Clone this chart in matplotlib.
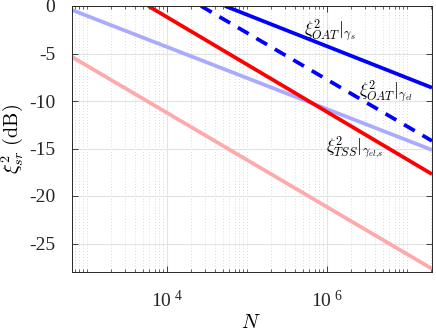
import numpy as np
import matplotlib
matplotlib.use("Agg")
import matplotlib.pyplot as plt
from matplotlib.ticker import FixedLocator, FixedFormatter, LogLocator, NullFormatter

# x range (atom number N)
N_lim = [650, 2.05e7]

# light background curves, dB values at the two ends
N_light = [650, 2.05e7]
oat_light_db = [-0.42, -15.15]
tss_light_db = [-5.36, -27.66]

# OAT, single-particle losses
N_oat_s = [5.3e4, 2.05e7]
oat_s_db = [0.0, -8.6]

# OAT, elastic collisions
N_oat_el = [2.66e4, 2.05e7]
oat_el_db = [0.0, -14.2]

# TSS
N_tss = [5.84e3, 2.05e7]
tss_db = [0.0, -17.7]

x_ticks = [1e4, 1e6]
x_ticklabels = [r'$\mathregular{10^{\ 4}}$', r'$\mathregular{10^{\ 6}}$']
y_ticks = [-25, -20, -15, -10, -5, 0]

plt.rcParams['font.family'] = ['Liberation Serif', 'DejaVu Serif']
plt.rcParams['mathtext.fontset'] = 'cm'

fig = plt.figure(figsize=(4.36, 3.32), dpi=100)
ax = fig.add_axes([72 / 436, 60 / 332, 360 / 436, 266 / 332])

ax.semilogx(N_light, oat_light_db, color='#aaaaff', lw=2.7, solid_capstyle='butt')
ax.semilogx(N_light, tss_light_db, color='#ffaaaa', lw=2.7, solid_capstyle='butt')
ax.semilogx(N_oat_s, oat_s_db, color='#0000ff', lw=2.7, solid_capstyle='butt')
ax.semilogx(N_oat_el, oat_el_db, color='#0000ff', lw=2.7, ls=(0, (3.3, 2.4)),
            dash_capstyle='butt')
ax.semilogx(N_tss, tss_db, color='#ff0000', lw=2.7, solid_capstyle='butt')

ax.set_xlim(N_lim)
ax.set_ylim(-28, 0)

ax.xaxis.set_major_locator(FixedLocator(x_ticks))
ax.xaxis.set_major_formatter(FixedFormatter(x_ticklabels))
ax.xaxis.set_minor_locator(LogLocator(base=10, subs=np.arange(1, 10), numticks=100))
ax.xaxis.set_minor_formatter(NullFormatter())
ax.set_yticks(y_ticks)
ax.set_yticklabels([str(v) for v in y_ticks])

ax.grid(which='major', color='#e3e3e3', lw=0.8, ls='-')
ax.grid(which='minor', axis='x', color='#cfcfcf', lw=0.6, ls=(0, (1, 2.5)))
ax.set_axisbelow(True)

ax.tick_params(which='both', direction='in', top=True, right=True,
               colors='#262626', labelcolor='#262626', labelsize=14)
ax.tick_params(which='major', length=4, width=0.6)
ax.tick_params(which='minor', length=2.5, width=0.5)
ax.tick_params(axis='y', pad=12)
ax.tick_params(axis='x', pad=13)
for s in ax.spines.values():
    s.set_color('#262626')
    s.set_linewidth(0.7)

ax.set_xlabel(r'$N$', fontsize=14.5)
ax.xaxis.set_label_coords(0.497, -0.192)
ax.xaxis.label.set_va('center')
ax.set_ylabel(r'$\xi^2_{sr}\ \mathrm{(dB)}$', fontsize=14.5)
ax.yaxis.set_label_coords(-0.167, 0.5)
ax.yaxis.label.set_va('center')

# curve labels
ax.text(1.09e6, -2.63, r'$\xi^2_{OAT}|_{\gamma_s}$', fontsize=12.5, ha='center', va='center')
ax.text(5.54e6, -9.03, r'$\xi^2_{OAT}|_{\gamma_{el}}$', fontsize=12.5, ha='center', va='center')
ax.text(2.24e6, -14.9, r'$\xi^2_{TSS}|_{\gamma_{el,\!s}}$', fontsize=12.5, ha='center', va='center')

fig.savefig('out.png', dpi=100)
